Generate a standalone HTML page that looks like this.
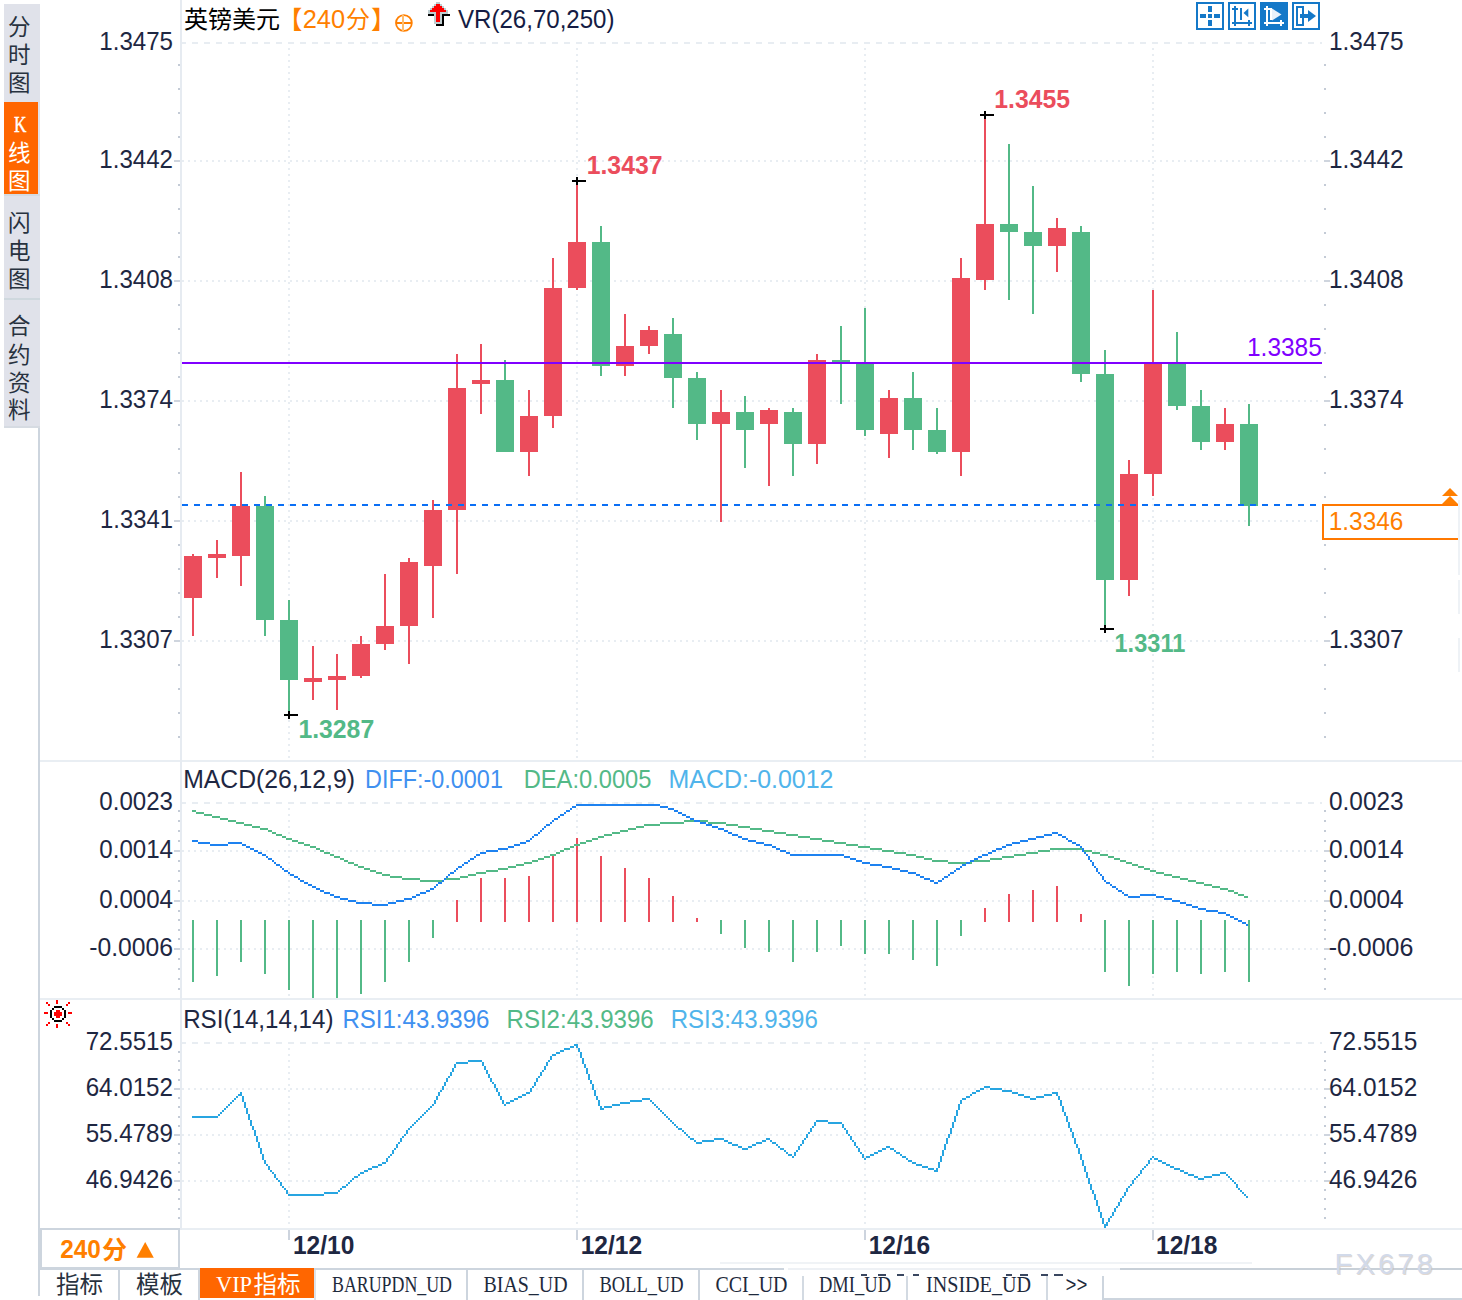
<!DOCTYPE html>
<html><head><meta charset="utf-8"><title>GBPUSD 240</title>
<style>html,body{margin:0;padding:0;background:#fff;}body{width:1462px;height:1300px;overflow:hidden;font-family:"Liberation Sans",sans-serif;}svg{display:block}</style></head>
<body><svg width="1462" height="1300" viewBox="0 0 1462 1300" font-family="Liberation Sans, sans-serif"><rect width="1462" height="1300" fill="#fff"/>
<g shape-rendering="crispEdges">
<path d="M180 43H1322" stroke="#e8edf2" stroke-width="2" stroke-dasharray="6 6" fill="none"/>
<path d="M182 161H1322" stroke="#e8edf2" stroke-width="2" stroke-dasharray="2 4" fill="none"/>
<path d="M182 281H1322" stroke="#e8edf2" stroke-width="2" stroke-dasharray="2 4" fill="none"/>
<path d="M182 401H1322" stroke="#e8edf2" stroke-width="2" stroke-dasharray="2 4" fill="none"/>
<path d="M182 521H1322" stroke="#e8edf2" stroke-width="2" stroke-dasharray="2 4" fill="none"/>
<path d="M182 641H1322" stroke="#e8edf2" stroke-width="2" stroke-dasharray="2 4" fill="none"/>
<path d="M180 803H1322" stroke="#e8edf2" stroke-width="2" stroke-dasharray="6 6" fill="none"/>
<path d="M182 851H1322" stroke="#e8edf2" stroke-width="2" stroke-dasharray="2 4" fill="none"/>
<path d="M182 901H1322" stroke="#e8edf2" stroke-width="2" stroke-dasharray="2 4" fill="none"/>
<path d="M182 949H1322" stroke="#e8edf2" stroke-width="2" stroke-dasharray="2 4" fill="none"/>
<path d="M180 1043H1322" stroke="#e8edf2" stroke-width="2" stroke-dasharray="6 6" fill="none"/>
<path d="M182 1089H1322" stroke="#e8edf2" stroke-width="2" stroke-dasharray="2 4" fill="none"/>
<path d="M182 1135H1322" stroke="#e8edf2" stroke-width="2" stroke-dasharray="2 4" fill="none"/>
<path d="M182 1181H1322" stroke="#e8edf2" stroke-width="2" stroke-dasharray="2 4" fill="none"/>
<path d="M289 48V760" stroke="#e8edf2" stroke-width="2" stroke-dasharray="2 4" fill="none"/>
<path d="M289 808V998" stroke="#e8edf2" stroke-width="2" stroke-dasharray="2 4" fill="none"/>
<path d="M289 1048V1228" stroke="#e8edf2" stroke-width="2" stroke-dasharray="2 4" fill="none"/>
<path d="M577 48V760" stroke="#e8edf2" stroke-width="2" stroke-dasharray="2 4" fill="none"/>
<path d="M577 808V998" stroke="#e8edf2" stroke-width="2" stroke-dasharray="2 4" fill="none"/>
<path d="M577 1048V1228" stroke="#e8edf2" stroke-width="2" stroke-dasharray="2 4" fill="none"/>
<path d="M865 48V760" stroke="#e8edf2" stroke-width="2" stroke-dasharray="2 4" fill="none"/>
<path d="M865 808V998" stroke="#e8edf2" stroke-width="2" stroke-dasharray="2 4" fill="none"/>
<path d="M865 1048V1228" stroke="#e8edf2" stroke-width="2" stroke-dasharray="2 4" fill="none"/>
<path d="M1153 48V760" stroke="#e8edf2" stroke-width="2" stroke-dasharray="2 4" fill="none"/>
<path d="M1153 808V998" stroke="#e8edf2" stroke-width="2" stroke-dasharray="2 4" fill="none"/>
<path d="M1153 1048V1228" stroke="#e8edf2" stroke-width="2" stroke-dasharray="2 4" fill="none"/>
<rect x="40" y="760" width="1422" height="2" fill="#e9eef3"/>
<rect x="40" y="998" width="1422" height="2" fill="#e9eef3"/>
<rect x="40" y="1228" width="1422" height="2" fill="#e9eef3"/>
<rect x="180" y="0" width="2" height="1230" fill="#e6ebf1"/>
<rect x="38" y="427" width="2" height="869" fill="#cdd5de"/>
<rect x="178" y="64" width="2" height="2" fill="#c4cbd6"/>
<rect x="1324" y="64" width="2" height="2" fill="#c4cbd6"/>
<rect x="178" y="88" width="2" height="2" fill="#c4cbd6"/>
<rect x="1324" y="88" width="2" height="2" fill="#c4cbd6"/>
<rect x="178" y="112" width="2" height="2" fill="#c4cbd6"/>
<rect x="1324" y="112" width="2" height="2" fill="#c4cbd6"/>
<rect x="178" y="136" width="2" height="2" fill="#c4cbd6"/>
<rect x="1324" y="136" width="2" height="2" fill="#c4cbd6"/>
<rect x="174" y="160" width="6" height="2" fill="#cfd5de"/>
<rect x="1324" y="160" width="6" height="2" fill="#cfd5de"/>
<rect x="178" y="184" width="2" height="2" fill="#c4cbd6"/>
<rect x="1324" y="184" width="2" height="2" fill="#c4cbd6"/>
<rect x="178" y="208" width="2" height="2" fill="#c4cbd6"/>
<rect x="1324" y="208" width="2" height="2" fill="#c4cbd6"/>
<rect x="178" y="232" width="2" height="2" fill="#c4cbd6"/>
<rect x="1324" y="232" width="2" height="2" fill="#c4cbd6"/>
<rect x="178" y="256" width="2" height="2" fill="#c4cbd6"/>
<rect x="1324" y="256" width="2" height="2" fill="#c4cbd6"/>
<rect x="174" y="280" width="6" height="2" fill="#cfd5de"/>
<rect x="1324" y="280" width="6" height="2" fill="#cfd5de"/>
<rect x="178" y="304" width="2" height="2" fill="#c4cbd6"/>
<rect x="1324" y="304" width="2" height="2" fill="#c4cbd6"/>
<rect x="178" y="328" width="2" height="2" fill="#c4cbd6"/>
<rect x="1324" y="328" width="2" height="2" fill="#c4cbd6"/>
<rect x="178" y="352" width="2" height="2" fill="#c4cbd6"/>
<rect x="1324" y="352" width="2" height="2" fill="#c4cbd6"/>
<rect x="178" y="376" width="2" height="2" fill="#c4cbd6"/>
<rect x="1324" y="376" width="2" height="2" fill="#c4cbd6"/>
<rect x="174" y="400" width="6" height="2" fill="#cfd5de"/>
<rect x="1324" y="400" width="6" height="2" fill="#cfd5de"/>
<rect x="178" y="424" width="2" height="2" fill="#c4cbd6"/>
<rect x="1324" y="424" width="2" height="2" fill="#c4cbd6"/>
<rect x="178" y="448" width="2" height="2" fill="#c4cbd6"/>
<rect x="1324" y="448" width="2" height="2" fill="#c4cbd6"/>
<rect x="178" y="472" width="2" height="2" fill="#c4cbd6"/>
<rect x="1324" y="472" width="2" height="2" fill="#c4cbd6"/>
<rect x="178" y="496" width="2" height="2" fill="#c4cbd6"/>
<rect x="1324" y="496" width="2" height="2" fill="#c4cbd6"/>
<rect x="174" y="520" width="6" height="2" fill="#cfd5de"/>
<rect x="1324" y="520" width="6" height="2" fill="#cfd5de"/>
<rect x="178" y="544" width="2" height="2" fill="#c4cbd6"/>
<rect x="1324" y="544" width="2" height="2" fill="#c4cbd6"/>
<rect x="178" y="568" width="2" height="2" fill="#c4cbd6"/>
<rect x="1324" y="568" width="2" height="2" fill="#c4cbd6"/>
<rect x="178" y="592" width="2" height="2" fill="#c4cbd6"/>
<rect x="1324" y="592" width="2" height="2" fill="#c4cbd6"/>
<rect x="178" y="616" width="2" height="2" fill="#c4cbd6"/>
<rect x="1324" y="616" width="2" height="2" fill="#c4cbd6"/>
<rect x="174" y="640" width="6" height="2" fill="#cfd5de"/>
<rect x="1324" y="640" width="6" height="2" fill="#cfd5de"/>
<rect x="178" y="664" width="2" height="2" fill="#c4cbd6"/>
<rect x="1324" y="664" width="2" height="2" fill="#c4cbd6"/>
<rect x="178" y="688" width="2" height="2" fill="#c4cbd6"/>
<rect x="1324" y="688" width="2" height="2" fill="#c4cbd6"/>
<rect x="178" y="712" width="2" height="2" fill="#c4cbd6"/>
<rect x="1324" y="712" width="2" height="2" fill="#c4cbd6"/>
<rect x="178" y="736" width="2" height="2" fill="#c4cbd6"/>
<rect x="1324" y="736" width="2" height="2" fill="#c4cbd6"/>
<rect x="178" y="810" width="2" height="2" fill="#c4cbd6"/>
<rect x="1324" y="810" width="2" height="2" fill="#c4cbd6"/>
<rect x="178" y="820" width="2" height="2" fill="#c4cbd6"/>
<rect x="1324" y="820" width="2" height="2" fill="#c4cbd6"/>
<rect x="178" y="830" width="2" height="2" fill="#c4cbd6"/>
<rect x="1324" y="830" width="2" height="2" fill="#c4cbd6"/>
<rect x="178" y="840" width="2" height="2" fill="#c4cbd6"/>
<rect x="1324" y="840" width="2" height="2" fill="#c4cbd6"/>
<rect x="174" y="850" width="6" height="2" fill="#cfd5de"/>
<rect x="1324" y="850" width="6" height="2" fill="#cfd5de"/>
<rect x="178" y="860" width="2" height="2" fill="#c4cbd6"/>
<rect x="1324" y="860" width="2" height="2" fill="#c4cbd6"/>
<rect x="178" y="870" width="2" height="2" fill="#c4cbd6"/>
<rect x="1324" y="870" width="2" height="2" fill="#c4cbd6"/>
<rect x="178" y="880" width="2" height="2" fill="#c4cbd6"/>
<rect x="1324" y="880" width="2" height="2" fill="#c4cbd6"/>
<rect x="178" y="890" width="2" height="2" fill="#c4cbd6"/>
<rect x="1324" y="890" width="2" height="2" fill="#c4cbd6"/>
<rect x="174" y="900" width="6" height="2" fill="#cfd5de"/>
<rect x="1324" y="900" width="6" height="2" fill="#cfd5de"/>
<rect x="178" y="910" width="2" height="2" fill="#c4cbd6"/>
<rect x="1324" y="910" width="2" height="2" fill="#c4cbd6"/>
<rect x="178" y="919" width="2" height="2" fill="#c4cbd6"/>
<rect x="1324" y="919" width="2" height="2" fill="#c4cbd6"/>
<rect x="178" y="929" width="2" height="2" fill="#c4cbd6"/>
<rect x="1324" y="929" width="2" height="2" fill="#c4cbd6"/>
<rect x="178" y="938" width="2" height="2" fill="#c4cbd6"/>
<rect x="1324" y="938" width="2" height="2" fill="#c4cbd6"/>
<rect x="174" y="948" width="6" height="2" fill="#cfd5de"/>
<rect x="1324" y="948" width="6" height="2" fill="#cfd5de"/>
<rect x="178" y="958" width="2" height="2" fill="#c4cbd6"/>
<rect x="1324" y="958" width="2" height="2" fill="#c4cbd6"/>
<rect x="178" y="968" width="2" height="2" fill="#c4cbd6"/>
<rect x="1324" y="968" width="2" height="2" fill="#c4cbd6"/>
<rect x="178" y="978" width="2" height="2" fill="#c4cbd6"/>
<rect x="1324" y="978" width="2" height="2" fill="#c4cbd6"/>
<rect x="178" y="988" width="2" height="2" fill="#c4cbd6"/>
<rect x="1324" y="988" width="2" height="2" fill="#c4cbd6"/>
<rect x="178" y="1051" width="2" height="2" fill="#c4cbd6"/>
<rect x="1324" y="1051" width="2" height="2" fill="#c4cbd6"/>
<rect x="178" y="1060" width="2" height="2" fill="#c4cbd6"/>
<rect x="1324" y="1060" width="2" height="2" fill="#c4cbd6"/>
<rect x="178" y="1069" width="2" height="2" fill="#c4cbd6"/>
<rect x="1324" y="1069" width="2" height="2" fill="#c4cbd6"/>
<rect x="178" y="1079" width="2" height="2" fill="#c4cbd6"/>
<rect x="1324" y="1079" width="2" height="2" fill="#c4cbd6"/>
<rect x="174" y="1088" width="6" height="2" fill="#cfd5de"/>
<rect x="1324" y="1088" width="6" height="2" fill="#cfd5de"/>
<rect x="178" y="1097" width="2" height="2" fill="#c4cbd6"/>
<rect x="1324" y="1097" width="2" height="2" fill="#c4cbd6"/>
<rect x="178" y="1106" width="2" height="2" fill="#c4cbd6"/>
<rect x="1324" y="1106" width="2" height="2" fill="#c4cbd6"/>
<rect x="178" y="1116" width="2" height="2" fill="#c4cbd6"/>
<rect x="1324" y="1116" width="2" height="2" fill="#c4cbd6"/>
<rect x="178" y="1125" width="2" height="2" fill="#c4cbd6"/>
<rect x="1324" y="1125" width="2" height="2" fill="#c4cbd6"/>
<rect x="174" y="1134" width="6" height="2" fill="#cfd5de"/>
<rect x="1324" y="1134" width="6" height="2" fill="#cfd5de"/>
<rect x="178" y="1143" width="2" height="2" fill="#c4cbd6"/>
<rect x="1324" y="1143" width="2" height="2" fill="#c4cbd6"/>
<rect x="178" y="1152" width="2" height="2" fill="#c4cbd6"/>
<rect x="1324" y="1152" width="2" height="2" fill="#c4cbd6"/>
<rect x="178" y="1162" width="2" height="2" fill="#c4cbd6"/>
<rect x="1324" y="1162" width="2" height="2" fill="#c4cbd6"/>
<rect x="178" y="1171" width="2" height="2" fill="#c4cbd6"/>
<rect x="1324" y="1171" width="2" height="2" fill="#c4cbd6"/>
<rect x="174" y="1180" width="6" height="2" fill="#cfd5de"/>
<rect x="1324" y="1180" width="6" height="2" fill="#cfd5de"/>
<rect x="178" y="1189" width="2" height="2" fill="#c4cbd6"/>
<rect x="1324" y="1189" width="2" height="2" fill="#c4cbd6"/>
<rect x="178" y="1198" width="2" height="2" fill="#c4cbd6"/>
<rect x="1324" y="1198" width="2" height="2" fill="#c4cbd6"/>
<rect x="178" y="1208" width="2" height="2" fill="#c4cbd6"/>
<rect x="1324" y="1208" width="2" height="2" fill="#c4cbd6"/>
<rect x="178" y="1217" width="2" height="2" fill="#c4cbd6"/>
<rect x="1324" y="1217" width="2" height="2" fill="#c4cbd6"/>
</g>
<g shape-rendering="crispEdges">
<path d="M192 554h2V636h-2zM184 556h18V598h-18z" fill="#eb4d5c"/>
<path d="M216 540h2V578h-2zM208 554h18V558h-18z" fill="#eb4d5c"/>
<path d="M240 472h2V586h-2zM232 506h18V556h-18z" fill="#eb4d5c"/>
<path d="M264 496h2V636h-2zM256 506h18V620h-18z" fill="#53b987"/>
<path d="M288 600h2V714h-2zM280 620h18V680h-18z" fill="#53b987"/>
<path d="M312 646h2V700h-2zM304 678h18V682h-18z" fill="#eb4d5c"/>
<path d="M336 654h2V710h-2zM328 676h18V680h-18z" fill="#eb4d5c"/>
<path d="M360 636h2V678h-2zM352 644h18V676h-18z" fill="#eb4d5c"/>
<path d="M384 574h2V650h-2zM376 626h18V644h-18z" fill="#eb4d5c"/>
<path d="M408 558h2V664h-2zM400 562h18V626h-18z" fill="#eb4d5c"/>
<path d="M432 500h2V618h-2zM424 510h18V566h-18z" fill="#eb4d5c"/>
<path d="M456 354h2V574h-2zM448 388h18V510h-18z" fill="#eb4d5c"/>
<path d="M480 344h2V414h-2zM472 380h18V384h-18z" fill="#eb4d5c"/>
<path d="M504 360h2V452h-2zM496 380h18V452h-18z" fill="#53b987"/>
<path d="M528 390h2V476h-2zM520 416h18V452h-18z" fill="#eb4d5c"/>
<path d="M552 258h2V428h-2zM544 288h18V416h-18z" fill="#eb4d5c"/>
<path d="M576 182h2V290h-2zM568 242h18V288h-18z" fill="#eb4d5c"/>
<path d="M600 226h2V376h-2zM592 242h18V366h-18z" fill="#53b987"/>
<path d="M624 314h2V376h-2zM616 346h18V366h-18z" fill="#eb4d5c"/>
<path d="M648 326h2V354h-2zM640 330h18V346h-18z" fill="#eb4d5c"/>
<path d="M672 318h2V408h-2zM664 334h18V378h-18z" fill="#53b987"/>
<path d="M696 372h2V440h-2zM688 378h18V424h-18z" fill="#53b987"/>
<path d="M720 390h2V522h-2zM712 412h18V424h-18z" fill="#eb4d5c"/>
<path d="M744 396h2V468h-2zM736 412h18V430h-18z" fill="#53b987"/>
<path d="M768 408h2V486h-2zM760 410h18V424h-18z" fill="#eb4d5c"/>
<path d="M792 408h2V476h-2zM784 412h18V444h-18z" fill="#53b987"/>
<path d="M816 354h2V464h-2zM808 360h18V444h-18z" fill="#eb4d5c"/>
<path d="M840 326h2V404h-2zM832 360h18V364h-18z" fill="#53b987"/>
<path d="M864 308h2V436h-2zM856 362h18V430h-18z" fill="#53b987"/>
<path d="M888 390h2V458h-2zM880 398h18V434h-18z" fill="#eb4d5c"/>
<path d="M912 372h2V450h-2zM904 398h18V430h-18z" fill="#53b987"/>
<path d="M936 408h2V454h-2zM928 430h18V452h-18z" fill="#53b987"/>
<path d="M960 258h2V476h-2zM952 278h18V452h-18z" fill="#eb4d5c"/>
<path d="M984 116h2V290h-2zM976 224h18V280h-18z" fill="#eb4d5c"/>
<path d="M1008 144h2V300h-2zM1000 224h18V232h-18z" fill="#53b987"/>
<path d="M1032 186h2V314h-2zM1024 232h18V246h-18z" fill="#53b987"/>
<path d="M1056 218h2V272h-2zM1048 228h18V246h-18z" fill="#eb4d5c"/>
<path d="M1080 226h2V382h-2zM1072 232h18V374h-18z" fill="#53b987"/>
<path d="M1104 350h2V628h-2zM1096 374h18V580h-18z" fill="#53b987"/>
<path d="M1128 460h2V596h-2zM1120 474h18V580h-18z" fill="#eb4d5c"/>
<path d="M1152 290h2V496h-2zM1144 364h18V474h-18z" fill="#eb4d5c"/>
<path d="M1176 332h2V410h-2zM1168 364h18V406h-18z" fill="#53b987"/>
<path d="M1200 390h2V450h-2zM1192 406h18V442h-18z" fill="#53b987"/>
<path d="M1224 408h2V450h-2zM1216 424h18V442h-18z" fill="#eb4d5c"/>
<path d="M1248 404h2V526h-2zM1240 424h18V506h-18z" fill="#53b987"/>
<rect x="182" y="362" width="1140" height="2" fill="#8000ff"/>
<path d="M182 505H1322" stroke="#0a6ff5" stroke-width="2" stroke-dasharray="6 6" fill="none"/>
<path d="M572 180h14v2h-14zM576 177h2v8h-2z" fill="#000"/>
<path d="M980 114h14v2h-14zM984 111h2v8h-2z" fill="#000"/>
<path d="M284 714h14v2h-14zM288 711h2v8h-2z" fill="#000"/>
<path d="M1100 628h14v2h-14zM1104 625h2v8h-2z" fill="#000"/>
</g>
<text x="586.7" y="173.7" font-size="25" fill="#eb4d5c" font-weight="bold" textLength="75.8" lengthAdjust="spacingAndGlyphs">1.3437</text>
<text x="994.3" y="107.6" font-size="25" fill="#eb4d5c" font-weight="bold" textLength="75.8" lengthAdjust="spacingAndGlyphs">1.3455</text>
<text x="298.4" y="738" font-size="25" fill="#53b987" font-weight="bold" textLength="75.8" lengthAdjust="spacingAndGlyphs">1.3287</text>
<text x="1114.5" y="651.7" font-size="25" fill="#53b987" font-weight="bold" textLength="70.8" lengthAdjust="spacingAndGlyphs">1.3311</text>
<text x="1247" y="356" font-size="25" fill="#8000ff" textLength="74.8" lengthAdjust="spacingAndGlyphs">1.3385</text>
<text x="173" y="49.8" font-size="25" fill="#1e2742" text-anchor="end" textLength="73.7" lengthAdjust="spacingAndGlyphs">1.3475</text>
<text x="1329" y="49.8" font-size="25" fill="#1e2742" textLength="74.7" lengthAdjust="spacingAndGlyphs">1.3475</text>
<text x="173" y="167.8" font-size="25" fill="#1e2742" text-anchor="end" textLength="73.7" lengthAdjust="spacingAndGlyphs">1.3442</text>
<text x="1329" y="167.8" font-size="25" fill="#1e2742" textLength="74.7" lengthAdjust="spacingAndGlyphs">1.3442</text>
<text x="173" y="287.8" font-size="25" fill="#1e2742" text-anchor="end" textLength="73.7" lengthAdjust="spacingAndGlyphs">1.3408</text>
<text x="1329" y="287.8" font-size="25" fill="#1e2742" textLength="74.7" lengthAdjust="spacingAndGlyphs">1.3408</text>
<text x="173" y="407.8" font-size="25" fill="#1e2742" text-anchor="end" textLength="73.7" lengthAdjust="spacingAndGlyphs">1.3374</text>
<text x="1329" y="407.8" font-size="25" fill="#1e2742" textLength="74.7" lengthAdjust="spacingAndGlyphs">1.3374</text>
<text x="173" y="647.8" font-size="25" fill="#1e2742" text-anchor="end" textLength="73.7" lengthAdjust="spacingAndGlyphs">1.3307</text>
<text x="1329" y="647.8" font-size="25" fill="#1e2742" textLength="74.7" lengthAdjust="spacingAndGlyphs">1.3307</text>
<text x="173" y="527.8" font-size="25" fill="#1e2742" text-anchor="end" textLength="72.9" lengthAdjust="spacingAndGlyphs">1.3341</text>
<text x="173" y="809.8" font-size="25" fill="#1e2742" text-anchor="end" textLength="73.7" lengthAdjust="spacingAndGlyphs">0.0023</text>
<text x="1329" y="809.8" font-size="25" fill="#1e2742" textLength="74.7" lengthAdjust="spacingAndGlyphs">0.0023</text>
<text x="173" y="857.8" font-size="25" fill="#1e2742" text-anchor="end" textLength="73.7" lengthAdjust="spacingAndGlyphs">0.0014</text>
<text x="1329" y="857.8" font-size="25" fill="#1e2742" textLength="74.7" lengthAdjust="spacingAndGlyphs">0.0014</text>
<text x="173" y="907.8" font-size="25" fill="#1e2742" text-anchor="end" textLength="73.7" lengthAdjust="spacingAndGlyphs">0.0004</text>
<text x="1329" y="907.8" font-size="25" fill="#1e2742" textLength="74.7" lengthAdjust="spacingAndGlyphs">0.0004</text>
<text x="173" y="955.8" font-size="25" fill="#1e2742" text-anchor="end" textLength="83.7" lengthAdjust="spacingAndGlyphs">-0.0006</text>
<text x="1328.7" y="955.8" font-size="25" fill="#1e2742" textLength="84.7" lengthAdjust="spacingAndGlyphs">-0.0006</text>
<text x="173" y="1049.8" font-size="25" fill="#1e2742" text-anchor="end" textLength="87.3" lengthAdjust="spacingAndGlyphs">72.5515</text>
<text x="1329" y="1049.8" font-size="25" fill="#1e2742" textLength="88.3" lengthAdjust="spacingAndGlyphs">72.5515</text>
<text x="173" y="1095.8" font-size="25" fill="#1e2742" text-anchor="end" textLength="87.3" lengthAdjust="spacingAndGlyphs">64.0152</text>
<text x="1329" y="1095.8" font-size="25" fill="#1e2742" textLength="88.3" lengthAdjust="spacingAndGlyphs">64.0152</text>
<text x="173" y="1141.8" font-size="25" fill="#1e2742" text-anchor="end" textLength="87.3" lengthAdjust="spacingAndGlyphs">55.4789</text>
<text x="1329" y="1141.8" font-size="25" fill="#1e2742" textLength="88.3" lengthAdjust="spacingAndGlyphs">55.4789</text>
<text x="173" y="1187.8" font-size="25" fill="#1e2742" text-anchor="end" textLength="87.3" lengthAdjust="spacingAndGlyphs">46.9426</text>
<text x="1329" y="1187.8" font-size="25" fill="#1e2742" textLength="88.3" lengthAdjust="spacingAndGlyphs">46.9426</text>
<g shape-rendering="crispEdges">
<path d="M1458 505H1323V539H1458" stroke="#ff7800" stroke-width="2" fill="#fff"/>
<path d="M1450 488l8 8h-16zM1450 496l8 8h-16z" fill="#ff7f00" shape-rendering="auto"/>
</g>
<text x="1328.7" y="529.8" font-size="25" fill="#ff7f00" textLength="74.7" lengthAdjust="spacingAndGlyphs">1.3346</text>
<g shape-rendering="crispEdges">
<rect x="192" y="920" width="2" height="62" fill="#53b987"/>
<rect x="216" y="920" width="2" height="56" fill="#53b987"/>
<rect x="240" y="920" width="2" height="42" fill="#53b987"/>
<rect x="264" y="920" width="2" height="54" fill="#53b987"/>
<rect x="288" y="920" width="2" height="70" fill="#53b987"/>
<rect x="312" y="920" width="2" height="78" fill="#53b987"/>
<rect x="336" y="920" width="2" height="78" fill="#53b987"/>
<rect x="360" y="920" width="2" height="74" fill="#53b987"/>
<rect x="384" y="920" width="2" height="62" fill="#53b987"/>
<rect x="408" y="920" width="2" height="42" fill="#53b987"/>
<rect x="432" y="920" width="2" height="18" fill="#53b987"/>
<rect x="456" y="900" width="2" height="22" fill="#eb4d5c"/>
<rect x="480" y="878" width="2" height="44" fill="#eb4d5c"/>
<rect x="504" y="878" width="2" height="44" fill="#eb4d5c"/>
<rect x="528" y="876" width="2" height="46" fill="#eb4d5c"/>
<rect x="552" y="856" width="2" height="66" fill="#eb4d5c"/>
<rect x="576" y="838" width="2" height="84" fill="#eb4d5c"/>
<rect x="600" y="856" width="2" height="66" fill="#eb4d5c"/>
<rect x="624" y="868" width="2" height="54" fill="#eb4d5c"/>
<rect x="648" y="878" width="2" height="44" fill="#eb4d5c"/>
<rect x="672" y="896" width="2" height="26" fill="#eb4d5c"/>
<rect x="696" y="918" width="2" height="4" fill="#eb4d5c"/>
<rect x="720" y="920" width="2" height="14" fill="#53b987"/>
<rect x="744" y="920" width="2" height="28" fill="#53b987"/>
<rect x="768" y="920" width="2" height="32" fill="#53b987"/>
<rect x="792" y="920" width="2" height="42" fill="#53b987"/>
<rect x="816" y="920" width="2" height="32" fill="#53b987"/>
<rect x="840" y="920" width="2" height="26" fill="#53b987"/>
<rect x="864" y="920" width="2" height="34" fill="#53b987"/>
<rect x="888" y="920" width="2" height="34" fill="#53b987"/>
<rect x="912" y="920" width="2" height="40" fill="#53b987"/>
<rect x="936" y="920" width="2" height="46" fill="#53b987"/>
<rect x="960" y="920" width="2" height="16" fill="#53b987"/>
<rect x="984" y="908" width="2" height="14" fill="#eb4d5c"/>
<rect x="1008" y="894" width="2" height="28" fill="#eb4d5c"/>
<rect x="1032" y="890" width="2" height="32" fill="#eb4d5c"/>
<rect x="1056" y="886" width="2" height="36" fill="#eb4d5c"/>
<rect x="1080" y="914" width="2" height="8" fill="#eb4d5c"/>
<rect x="1104" y="920" width="2" height="52" fill="#53b987"/>
<rect x="1128" y="920" width="2" height="66" fill="#53b987"/>
<rect x="1152" y="920" width="2" height="54" fill="#53b987"/>
<rect x="1176" y="920" width="2" height="52" fill="#53b987"/>
<rect x="1200" y="920" width="2" height="54" fill="#53b987"/>
<rect x="1224" y="920" width="2" height="52" fill="#53b987"/>
<rect x="1248" y="920" width="2" height="62" fill="#53b987"/>
<path d="M192 810h4v2h-4zM196 812h8v2h-8zM204 814h8v2h-8zM212 816h8v2h-8zM220 818h8v2h-8zM228 820h8v2h-8zM236 822h8v2h-8zM244 824h8v2h-8zM252 826h8v2h-8zM260 828h8v2h-8zM268 830h4v2h-4zM272 832h4v2h-4zM276 834h6v2h-6zM282 836h4v2h-4zM286 838h6v2h-6zM292 840h6v2h-6zM298 842h6v2h-6zM304 844h6v2h-6zM310 846h6v2h-6zM316 848h4v2h-4zM320 850h4v2h-4zM324 852h6v2h-6zM330 854h4v2h-4zM334 856h6v2h-6zM340 858h4v2h-4zM344 860h4v2h-4zM348 862h6v2h-6zM354 864h4v2h-4zM358 866h6v2h-6zM364 868h6v2h-6zM370 870h6v2h-6zM376 872h6v2h-6zM382 874h8v2h-8zM390 876h12v2h-12zM402 878h18v2h-18zM420 880h24v2h-24zM444 878h16v2h-16zM460 876h8v2h-8zM468 874h8v2h-8zM476 872h10v2h-10zM486 870h12v2h-12zM498 868h10v2h-10zM508 866h8v2h-8zM516 864h8v2h-8zM524 862h8v2h-8zM532 860h6v2h-6zM538 858h6v2h-6zM544 856h6v2h-6zM550 854h6v2h-6zM556 852h4v2h-4zM560 850h4v2h-4zM564 848h6v2h-6zM570 846h4v2h-4zM574 844h6v2h-6zM580 842h6v2h-6zM586 840h6v2h-6zM592 838h6v2h-6zM598 836h6v2h-6zM604 834h8v2h-8zM612 832h8v2h-8zM620 830h8v2h-8zM628 828h8v2h-8zM636 826h8v2h-8zM644 824h16v2h-16zM660 822h24v2h-24zM684 820h24v2h-24zM708 822h18v2h-18zM726 824h12v2h-12zM738 826h12v2h-12zM750 828h12v2h-12zM762 830h12v2h-12zM774 832h12v2h-12zM786 834h12v2h-12zM798 836h12v2h-12zM810 838h12v2h-12zM822 840h12v2h-12zM834 842h12v2h-12zM846 844h12v2h-12zM858 846h12v2h-12zM870 848h12v2h-12zM882 850h12v2h-12zM894 852h12v2h-12zM906 854h10v2h-10zM916 856h8v2h-8zM924 858h8v2h-8zM932 860h16v2h-16zM948 862h24v2h-24zM972 860h18v2h-18zM990 858h12v2h-12zM1002 856h12v2h-12zM1014 854h12v2h-12zM1026 852h12v2h-12zM1038 850h12v2h-12zM1050 848h34v2h-34zM1084 850h8v2h-8zM1092 852h8v2h-8zM1100 854h8v2h-8zM1108 856h6v2h-6zM1114 858h6v2h-6zM1120 860h6v2h-6zM1126 862h6v2h-6zM1132 864h6v2h-6zM1138 866h6v2h-6zM1144 868h6v2h-6zM1150 870h6v2h-6zM1156 872h8v2h-8zM1164 874h8v2h-8zM1172 876h8v2h-8zM1180 878h8v2h-8zM1188 880h8v2h-8zM1196 882h8v2h-8zM1204 884h8v2h-8zM1212 886h8v2h-8zM1220 888h8v2h-8zM1228 890h6v2h-6zM1234 892h4v2h-4zM1238 894h6v2h-6zM1244 896h4v2h-4z" fill="#53b987"/>
<path d="M192 840h6v2h-6zM198 842h12v2h-12zM210 844h18v2h-18zM228 842h14v2h-14zM242 844h4v2h-4zM246 846h4v2h-4zM250 848h4v2h-4zM254 850h4v2h-4zM258 852h4v2h-4zM262 854h4v2h-4zM266 856h2v2h-2zM268 858h4v2h-4zM272 860h2v2h-2zM274 862h2v2h-2zM276 864h4v2h-4zM280 866h2v2h-2zM282 868h2v2h-2zM284 870h4v2h-4zM288 872h2v2h-2zM290 874h4v2h-4zM294 876h4v2h-4zM298 878h2v2h-2zM300 880h4v2h-4zM304 882h4v2h-4zM308 884h4v2h-4zM312 886h4v2h-4zM316 888h4v2h-4zM320 890h4v2h-4zM324 892h6v2h-6zM330 894h4v2h-4zM334 896h6v2h-6zM340 898h8v2h-8zM348 900h8v2h-8zM356 902h16v2h-16zM372 904h16v2h-16zM388 902h8v2h-8zM396 900h8v2h-8zM404 898h8v2h-8zM412 896h4v2h-4zM416 894h4v2h-4zM420 892h6v2h-6zM426 890h4v2h-4zM430 888h4v2h-4zM434 886h2v2h-2zM436 884h2v2h-2zM438 882h4v2h-4zM442 880h2v2h-2zM444 878h2v2h-2zM446 876h2v2h-2zM448 874h2v2h-2zM450 872h4v2h-4zM454 870h2v2h-2zM456 868h2v2h-2zM458 866h4v2h-4zM462 864h2v2h-2zM464 862h4v2h-4zM468 860h2v2h-2zM470 858h4v2h-4zM474 856h2v2h-2zM476 854h4v2h-4zM480 852h6v2h-6zM486 850h12v2h-12zM498 848h10v2h-10zM508 846h6v2h-6zM514 844h6v2h-6zM520 842h6v2h-6zM526 840h4v2h-4zM530 838h2v2h-2zM532 836h2v2h-2zM534 834h4v2h-4zM538 832h2v2h-2zM540 830h2v2h-2zM542 828h2v2h-2zM544 826h2v2h-2zM546 824h4v2h-4zM550 822h2v2h-2zM552 820h2v2h-2zM554 818h4v2h-4zM558 816h2v2h-2zM560 814h4v2h-4zM564 812h2v2h-2zM566 810h4v2h-4zM570 808h2v2h-2zM572 806h4v2h-4zM576 804h84v2h-84zM660 806h8v2h-8zM668 808h6v2h-6zM674 810h4v2h-4zM678 812h4v2h-4zM682 814h4v2h-4zM686 816h4v2h-4zM690 818h4v2h-4zM694 820h6v2h-6zM700 822h6v2h-6zM706 824h6v2h-6zM712 826h6v2h-6zM718 828h6v2h-6zM724 830h4v2h-4zM728 832h4v2h-4zM732 834h6v2h-6zM738 836h4v2h-4zM742 838h6v2h-6zM748 840h8v2h-8zM756 842h8v2h-8zM764 844h8v2h-8zM772 846h4v2h-4zM776 848h4v2h-4zM780 850h6v2h-6zM786 852h4v2h-4zM790 854h54v2h-54zM844 856h6v2h-6zM850 858h6v2h-6zM856 860h6v2h-6zM862 862h8v2h-8zM870 864h12v2h-12zM882 866h10v2h-10zM892 868h8v2h-8zM900 870h8v2h-8zM908 872h8v2h-8zM916 874h4v2h-4zM920 876h4v2h-4zM924 878h6v2h-6zM930 880h4v2h-4zM934 882h4v2h-4zM938 880h4v2h-4zM942 878h2v2h-2zM944 876h4v2h-4zM948 874h2v2h-2zM950 872h4v2h-4zM954 870h2v2h-2zM956 868h4v2h-4zM960 866h2v2h-2zM962 864h4v2h-4zM966 862h4v2h-4zM970 860h4v2h-4zM974 858h4v2h-4zM978 856h4v2h-4zM982 854h6v2h-6zM988 852h4v2h-4zM992 850h4v2h-4zM996 848h6v2h-6zM1002 846h4v2h-4zM1006 844h6v2h-6zM1012 842h8v2h-8zM1020 840h8v2h-8zM1028 838h8v2h-8zM1036 836h8v2h-8zM1044 834h8v2h-8zM1052 832h6v2h-6zM1058 834h4v2h-4zM1062 836h4v2h-4zM1066 838h2v2h-2zM1068 840h4v2h-4zM1072 842h4v2h-4zM1076 844h4v2h-4zM1080 846h2v2h-2zM1082 848h2v4h-2zM1084 852h2v2h-2zM1086 854h2v2h-2zM1088 856h2v4h-2zM1090 860h2v2h-2zM1092 862h2v4h-2zM1094 866h2v2h-2zM1096 868h2v4h-2zM1098 872h2v2h-2zM1100 874h2v2h-2zM1102 876h2v4h-2zM1104 880h2v2h-2zM1106 882h4v2h-4zM1110 884h2v2h-2zM1112 886h4v2h-4zM1116 888h2v2h-2zM1118 890h4v2h-4zM1122 892h2v2h-2zM1124 894h4v2h-4zM1128 896h12v2h-12zM1140 894h16v2h-16zM1156 896h8v2h-8zM1164 898h8v2h-8zM1172 900h8v2h-8zM1180 902h6v2h-6zM1186 904h6v2h-6zM1192 906h6v2h-6zM1198 908h8v2h-8zM1206 910h12v2h-12zM1218 912h8v2h-8zM1226 914h4v2h-4zM1230 916h4v2h-4zM1234 918h4v2h-4zM1238 920h4v2h-4zM1242 922h4v2h-4zM1246 924h2v2h-2z" fill="#1e82f0"/>
<path d="M192 1116h26v2h-26zM218 1114h2v2h-2zM220 1112h2v2h-2zM222 1110h2v2h-2zM224 1108h2v2h-2zM226 1106h2v2h-2zM228 1104h2v2h-2zM230 1102h2v2h-2zM232 1100h2v2h-2zM234 1098h2v2h-2zM236 1096h2v2h-2zM238 1094h2v2h-2zM240 1092h2v4h-2zM242 1096h2v6h-2zM244 1102h2v6h-2zM246 1108h2v6h-2zM248 1114h2v6h-2zM250 1120h2v6h-2zM252 1126h2v4h-2zM254 1130h2v6h-2zM256 1136h2v6h-2zM258 1142h2v6h-2zM260 1148h2v6h-2zM262 1154h2v6h-2zM264 1160h2v4h-2zM266 1164h2v2h-2zM268 1166h2v4h-2zM270 1170h2v2h-2zM272 1172h2v2h-2zM274 1174h2v4h-2zM276 1178h2v2h-2zM278 1180h2v2h-2zM280 1182h2v4h-2zM282 1186h2v2h-2zM284 1188h2v2h-2zM286 1190h2v4h-2zM288 1194h36v2h-36zM324 1192h14v2h-14zM338 1190h2v2h-2zM340 1188h2v2h-2zM342 1186h4v2h-4zM346 1184h2v2h-2zM348 1182h2v2h-2zM350 1180h2v2h-2zM352 1178h2v2h-2zM354 1176h4v2h-4zM358 1174h2v2h-2zM360 1172h4v2h-4zM364 1170h4v2h-4zM368 1168h4v2h-4zM372 1166h6v2h-6zM378 1164h4v2h-4zM382 1162h4v2h-4zM386 1158h2v4h-2zM388 1156h2v2h-2zM390 1154h2v2h-2zM392 1150h2v4h-2zM394 1148h2v2h-2zM396 1144h2v4h-2zM398 1142h2v2h-2zM400 1138h2v4h-2zM402 1136h2v2h-2zM404 1134h2v2h-2zM406 1130h2v4h-2zM408 1128h2v2h-2zM410 1126h2v2h-2zM412 1124h2v2h-2zM414 1122h2v2h-2zM416 1120h2v2h-2zM418 1118h2v2h-2zM420 1116h2v2h-2zM422 1114h2v2h-2zM424 1112h2v2h-2zM426 1110h2v2h-2zM428 1108h2v2h-2zM430 1106h2v2h-2zM432 1104h2v2h-2zM434 1100h2v4h-2zM436 1096h2v4h-2zM438 1092h2v4h-2zM440 1090h2v2h-2zM442 1086h2v4h-2zM444 1082h2v4h-2zM446 1078h2v4h-2zM448 1076h2v2h-2zM450 1072h2v4h-2zM452 1068h2v4h-2zM454 1064h2v4h-2zM456 1062h12v2h-12zM468 1060h14v2h-14zM482 1062h2v4h-2zM484 1066h2v4h-2zM486 1070h2v4h-2zM488 1074h2v4h-2zM490 1078h2v4h-2zM492 1082h2v2h-2zM494 1084h2v4h-2zM496 1088h2v4h-2zM498 1092h2v4h-2zM500 1096h2v4h-2zM502 1100h2v4h-2zM504 1104h2v2h-2zM506 1102h4v2h-4zM510 1100h4v2h-4zM514 1098h4v2h-4zM518 1096h4v2h-4zM522 1094h4v2h-4zM526 1092h4v2h-4zM530 1088h2v4h-2zM532 1086h2v2h-2zM534 1082h2v4h-2zM536 1078h2v4h-2zM538 1076h2v2h-2zM540 1072h2v4h-2zM542 1070h2v2h-2zM544 1066h2v4h-2zM546 1062h2v4h-2zM548 1060h2v2h-2zM550 1056h2v4h-2zM552 1054h4v2h-4zM556 1052h4v2h-4zM560 1050h4v2h-4zM564 1048h6v2h-6zM570 1046h4v2h-4zM574 1044h2v2h-2zM576 1044h2v4h-2zM578 1048h2v4h-2zM580 1052h2v6h-2zM582 1058h2v6h-2zM584 1064h2v4h-2zM586 1068h2v6h-2zM588 1074h2v6h-2zM590 1080h2v4h-2zM592 1084h2v6h-2zM594 1090h2v6h-2zM596 1096h2v4h-2zM598 1100h2v6h-2zM600 1106h2v4h-2zM602 1108h2v2h-2zM604 1106h8v2h-8zM612 1104h8v2h-8zM620 1102h10v2h-10zM630 1100h12v2h-12zM642 1098h8v2h-8zM650 1100h2v2h-2zM652 1102h2v2h-2zM654 1104h2v2h-2zM656 1106h2v2h-2zM658 1108h2v2h-2zM660 1110h2v2h-2zM662 1112h2v2h-2zM664 1114h2v2h-2zM666 1116h2v2h-2zM668 1118h2v2h-2zM670 1120h2v2h-2zM672 1122h2v2h-2zM674 1124h2v2h-2zM676 1126h2v2h-2zM678 1128h4v2h-4zM682 1130h2v2h-2zM684 1132h2v2h-2zM686 1134h2v2h-2zM688 1136h2v2h-2zM690 1138h4v2h-4zM694 1140h2v2h-2zM696 1142h6v2h-6zM702 1140h12v2h-12zM714 1138h10v2h-10zM724 1140h4v2h-4zM728 1142h4v2h-4zM732 1144h6v2h-6zM738 1146h4v2h-4zM742 1148h6v2h-6zM748 1146h4v2h-4zM752 1144h4v2h-4zM756 1142h6v2h-6zM762 1140h4v2h-4zM766 1138h4v2h-4zM770 1140h2v2h-2zM772 1142h4v2h-4zM776 1144h2v2h-2zM778 1146h2v2h-2zM780 1148h4v2h-4zM784 1150h2v2h-2zM786 1152h2v2h-2zM788 1154h4v2h-4zM792 1156h2v2h-2zM794 1152h2v4h-2zM796 1150h2v2h-2zM798 1146h2v4h-2zM800 1144h2v2h-2zM802 1140h2v4h-2zM804 1138h2v2h-2zM806 1134h2v4h-2zM808 1132h2v2h-2zM810 1128h2v4h-2zM812 1126h2v2h-2zM814 1122h2v4h-2zM816 1120h12v2h-12zM828 1122h14v2h-14zM842 1124h2v4h-2zM844 1128h2v2h-2zM846 1130h2v4h-2zM848 1134h2v2h-2zM850 1136h2v4h-2zM852 1140h2v2h-2zM854 1142h2v4h-2zM856 1146h2v2h-2zM858 1148h2v4h-2zM860 1152h2v2h-2zM862 1154h2v4h-2zM864 1158h2v2h-2zM866 1156h4v2h-4zM870 1154h4v2h-4zM874 1152h4v2h-4zM878 1150h4v2h-4zM882 1148h4v2h-4zM886 1146h4v2h-4zM890 1148h4v2h-4zM894 1150h2v2h-2zM896 1152h4v2h-4zM900 1154h2v2h-2zM902 1156h4v2h-4zM906 1158h2v2h-2zM908 1160h4v2h-4zM912 1162h4v2h-4zM916 1164h6v2h-6zM922 1166h6v2h-6zM928 1168h6v2h-6zM934 1170h2v2h-2zM936 1168h2v4h-2zM938 1162h2v6h-2zM940 1156h2v6h-2zM942 1150h2v6h-2zM944 1144h2v6h-2zM946 1138h2v6h-2zM948 1134h2v4h-2zM950 1128h2v6h-2zM952 1122h2v6h-2zM954 1116h2v6h-2zM956 1110h2v6h-2zM958 1104h2v6h-2zM960 1100h2v4h-2zM962 1098h4v2h-4zM966 1096h4v2h-4zM970 1094h2v2h-2zM972 1092h4v2h-4zM976 1090h4v2h-4zM980 1088h4v2h-4zM984 1086h6v2h-6zM990 1088h12v2h-12zM1002 1090h10v2h-10zM1012 1092h6v2h-6zM1018 1094h6v2h-6zM1024 1096h6v2h-6zM1030 1098h6v2h-6zM1036 1096h8v2h-8zM1044 1094h8v2h-8zM1052 1092h4v2h-4zM1056 1092h2v4h-2zM1058 1096h2v4h-2zM1060 1100h2v6h-2zM1062 1106h2v6h-2zM1064 1112h2v4h-2zM1066 1116h2v6h-2zM1068 1122h2v6h-2zM1070 1128h2v4h-2zM1072 1132h2v6h-2zM1074 1138h2v6h-2zM1076 1144h2v4h-2zM1078 1148h2v6h-2zM1080 1154h2v6h-2zM1082 1160h2v6h-2zM1084 1166h2v6h-2zM1086 1172h2v6h-2zM1088 1178h2v6h-2zM1090 1184h2v6h-2zM1092 1190h2v4h-2zM1094 1194h2v6h-2zM1096 1200h2v6h-2zM1098 1206h2v6h-2zM1100 1212h2v6h-2zM1102 1218h2v6h-2zM1104 1224h2v4h-2zM1106 1222h2v4h-2zM1108 1218h2v4h-2zM1110 1216h2v2h-2zM1112 1212h2v4h-2zM1114 1208h2v4h-2zM1116 1206h2v2h-2zM1118 1202h2v4h-2zM1120 1198h2v4h-2zM1122 1196h2v2h-2zM1124 1192h2v4h-2zM1126 1188h2v4h-2zM1128 1186h2v2h-2zM1130 1184h2v2h-2zM1132 1180h2v4h-2zM1134 1178h2v2h-2zM1136 1176h2v2h-2zM1138 1174h2v2h-2zM1140 1170h2v4h-2zM1142 1168h2v2h-2zM1144 1166h2v2h-2zM1146 1164h2v2h-2zM1148 1160h2v4h-2zM1150 1158h2v2h-2zM1152 1156h2v2h-2zM1154 1158h4v2h-4zM1158 1160h4v2h-4zM1162 1162h4v2h-4zM1166 1164h4v2h-4zM1170 1166h4v2h-4zM1174 1168h6v2h-6zM1180 1170h4v2h-4zM1184 1172h4v2h-4zM1188 1174h6v2h-6zM1194 1176h4v2h-4zM1198 1178h6v2h-6zM1204 1176h8v2h-8zM1212 1174h8v2h-8zM1220 1172h6v2h-6zM1226 1174h2v2h-2zM1228 1176h2v2h-2zM1230 1178h2v2h-2zM1232 1180h2v2h-2zM1234 1182h2v2h-2zM1236 1184h2v4h-2zM1238 1188h2v2h-2zM1240 1190h2v2h-2zM1242 1192h2v2h-2zM1244 1194h2v2h-2zM1246 1196h2v2h-2z" fill="#28a5e1"/>
</g>
<text x="183.2" y="787.6" font-size="25" fill="#1e2742" textLength="171.8" lengthAdjust="spacingAndGlyphs">MACD(26,12,9)</text>
<text x="365.1" y="787.6" font-size="25" fill="#4090f0" textLength="137.8" lengthAdjust="spacingAndGlyphs">DIFF:-0.0001</text>
<text x="523.7" y="787.6" font-size="25" fill="#53b987" textLength="127.8" lengthAdjust="spacingAndGlyphs">DEA:0.0005</text>
<text x="668.5" y="787.6" font-size="25" fill="#50b4eb" textLength="165" lengthAdjust="spacingAndGlyphs">MACD:-0.0012</text>
<text x="183.2" y="1027.6" font-size="25" fill="#1e2742" textLength="150.3" lengthAdjust="spacingAndGlyphs">RSI(14,14,14)</text>
<text x="342.4" y="1027.6" font-size="25" fill="#4090f0" textLength="147.1" lengthAdjust="spacingAndGlyphs">RSI1:43.9396</text>
<text x="506.5" y="1027.6" font-size="25" fill="#53b987" textLength="147.2" lengthAdjust="spacingAndGlyphs">RSI2:43.9396</text>
<text x="670.7" y="1027.6" font-size="25" fill="#50b4eb" textLength="147.1" lengthAdjust="spacingAndGlyphs">RSI3:43.9396</text>
<text x="184" y="28" font-size="24" fill="#000" font-family="Liberation Sans, Noto Sans CJK SC, sans-serif" textLength="96" lengthAdjust="spacingAndGlyphs">英镑美元</text>
<text x="302.5" y="28.5" font-size="25" fill="#ff7f00" text-anchor="end" font-family="Liberation Sans, Noto Sans CJK SC, sans-serif">【</text>
<text x="302.7" y="28.2" font-size="25.5" fill="#ff7f00" textLength="42.4" lengthAdjust="spacingAndGlyphs">240</text>
<text x="346" y="28" font-size="24" fill="#ff7f00" font-family="Liberation Sans, Noto Sans CJK SC, sans-serif">分</text>
<text x="371" y="28.5" font-size="25" fill="#ff7f00" font-family="Liberation Sans, Noto Sans CJK SC, sans-serif">】</text>
<circle cx="403.9" cy="23" r="7.9" fill="none" stroke="#ff7f00" stroke-width="1.8"/><path d="M396 23h16" stroke="#ff7f00" stroke-width="2"/><path d="M403 15v16" stroke="#ffbe6e" stroke-width="2"/>
<g shape-rendering="crispEdges">
<path d="M436 2h4v2h2v2h2v2h2v2h2v4h-6v10h-8v-10h-6v-4h2v-2h2v-2h2v-2h2z" fill="#bfcdd0"/>
<path d="M436 4h4v2h2v2h2v2h2v2h-6v10h-4v-10h-6v-2h2v-2h2v-2h2z" fill="#f00"/>
<path d="M428 14h6v2h-6zM442 14h8v2h-6v10h-8v-2h6z" fill="#000"/>
</g>
<text x="458" y="27.5" font-size="25" fill="#141c44" textLength="156.5" lengthAdjust="spacingAndGlyphs">VR(26,70,250)</text>
<g shape-rendering="crispEdges">
<rect x="1197" y="3" width="26" height="26" fill="#fff" stroke="#1478c8" stroke-width="2"/>
<rect x="1229" y="3" width="26" height="26" fill="#fff" stroke="#1478c8" stroke-width="2"/>
<rect x="1260" y="2" width="28" height="28" fill="#1478c8"/>
<rect x="1293" y="3" width="26" height="26" fill="#fff" stroke="#1478c8" stroke-width="2"/>
<path d="M1208 6h4v6h-4zM1208 20h4v6h-4zM1200 14h6v4h-6zM1214 14h6v4h-6zM1208 14h4v4h-4z" fill="#1478c8"/>
<path d="M1234 6h2v20h-2zM1232 22h20v2h-20zM1232 8h6v2h-6zM1248 20h2v6h-2zM1240 8h2v12h-2z" fill="#1478c8"/>
<path d="M1248.3 8.6v8.6l-4.8-4.3z" fill="#1478c8" shape-rendering="auto"/>
<path d="M1266 6h2v20h-2zM1264 22h20v2h-20zM1264 8h6v2h-6zM1280 20h2v6h-2zM1270 8h2v12h-2z" fill="#fff"/>
<path d="M1272 8.5l9.5 6l-9.5 6z" fill="#e8f1fa" shape-rendering="auto"/>
<rect x="1297" y="7" width="6" height="18" fill="none" stroke="#1478c8" stroke-width="2"/>
<path d="M1300 14h9v4h-9z" fill="#1478c8"/><path d="M1308 10l8 6l-8 6z" fill="#1478c8" shape-rendering="auto"/>
</g>
<g shape-rendering="crispEdges">
<rect x="4" y="4" width="36" height="423.5" fill="#e0e2ea"/>
<rect x="4" y="102" width="34" height="92" fill="#ff6600"/>
<rect x="4" y="194" width="36" height="1.5" fill="#d4dbe2"/>
<rect x="4" y="298" width="36" height="2" fill="#cfd8de"/>
<rect x="4" y="425.5" width="36" height="2" fill="#d6dbe2"/>
</g>
<g font-family="Liberation Sans, Noto Sans CJK SC, sans-serif" font-size="22.5" text-anchor="middle" fill="#28323f">
<text x="19.3" y="34.5">分</text>
<text x="19.3" y="62.5">时</text>
<text x="19.3" y="91">图</text>
</g>
<text x="14" y="131.7" font-size="22.5" fill="#fff" font-family="Liberation Serif" textLength="12.4" lengthAdjust="spacingAndGlyphs" stroke="#fff" stroke-width="0.5">K</text>
<g font-family="Liberation Sans, Noto Sans CJK SC, sans-serif" font-size="22.5" text-anchor="middle" fill="#fff">
<text x="19.3" y="160.5">线</text>
<text x="19.3" y="188.5">图</text>
</g>
<g font-family="Liberation Sans, Noto Sans CJK SC, sans-serif" font-size="22.5" text-anchor="middle" fill="#28323f">
<text x="19.3" y="231">闪</text>
<text x="19.3" y="259">电</text>
<text x="19.3" y="287">图</text>
<text x="19.3" y="334">合</text>
<text x="19.3" y="363">约</text>
<text x="19.3" y="391">资</text>
<text x="19.3" y="418">料</text>
</g>
<g shape-rendering="crispEdges">
<path d="M56 1000h2v4h-2zM56 1024h2v4h-2zM44 1012h4v2h-4zM68 1012h4v2h-4zM46 1002h2v2h-2zM48 1004h2v2h-2zM68 1002h2v2h-2zM66 1004h2v2h-2zM48 1022h2v2h-2zM46 1024h2v2h-2zM66 1022h2v2h-2zM68 1024h2v2h-2zM56 1010h4v8h-4zM54 1012h8v4h-8z" fill="#f00"/>
<path d="M54 1006h8v2h-8zM54 1020h8v2h-8zM50 1010h2v8h-2zM64 1010h2v8h-2zM52 1008h2v2h-2zM62 1008h2v2h-2zM52 1018h2v2h-2zM62 1018h2v2h-2z" fill="#000"/>
</g>
<g shape-rendering="crispEdges">
<rect x="288" y="1230" width="2" height="10" fill="#cdd4de"/>
<rect x="576" y="1230" width="2" height="10" fill="#cdd4de"/>
<rect x="864" y="1230" width="2" height="10" fill="#cdd4de"/>
<rect x="1152" y="1230" width="2" height="10" fill="#cdd4de"/>
</g>
<text x="292.9" y="1253.6" font-size="25" fill="#1e2742" font-weight="bold" textLength="61.4" lengthAdjust="spacingAndGlyphs">12/10</text>
<text x="580.7" y="1253.6" font-size="25" fill="#1e2742" font-weight="bold" textLength="61.4" lengthAdjust="spacingAndGlyphs">12/12</text>
<text x="868.7" y="1253.6" font-size="25" fill="#1e2742" font-weight="bold" textLength="61.4" lengthAdjust="spacingAndGlyphs">12/16</text>
<text x="1156" y="1253.6" font-size="25" fill="#1e2742" font-weight="bold" textLength="61.4" lengthAdjust="spacingAndGlyphs">12/18</text>
<g shape-rendering="crispEdges">
<rect x="41" y="1229" width="138" height="39" fill="#fff" stroke="#cdd5de" stroke-width="2"/>
</g>
<text x="60.3" y="1257.8" font-size="25.5" fill="#ff7f00" font-weight="bold" textLength="40.6" lengthAdjust="spacingAndGlyphs">240</text>
<text x="102" y="1259" font-size="25" fill="#ff7f00" font-weight="bold" font-family="Liberation Sans, Noto Sans CJK SC, sans-serif">分</text>
<path d="M145.2 1242l8.6 15.8h-17.2z" fill="#ff7f00"/>
<g shape-rendering="crispEdges">
<rect x="40" y="1268" width="744" height="2" fill="#cdd5de"/>
<rect x="788" y="1268" width="332" height="2" fill="#eef1f5"/>
<rect x="1120" y="1268" width="342" height="2" fill="#c8d0d8"/>
<rect x="720" y="1262" width="532" height="1.5" fill="#f0f3f6"/>
<rect x="118" y="1270" width="2" height="30" fill="#cdd5de"/>
<rect x="198" y="1270" width="2" height="30" fill="#cdd5de"/>
<rect x="466" y="1270" width="2" height="30" fill="#cdd5de"/>
<rect x="582" y="1270" width="2" height="30" fill="#cdd5de"/>
<rect x="698" y="1270" width="2" height="30" fill="#cdd5de"/>
<rect x="802" y="1276" width="2" height="24" fill="#d3dae2"/>
<rect x="906" y="1276" width="2" height="24" fill="#d3dae2"/>
<rect x="1046" y="1276" width="2" height="24" fill="#d3dae2"/>
<rect x="1102" y="1276" width="2" height="23" fill="#cdd5de"/>
<rect x="1102" y="1298" width="360" height="2" fill="#cdd5de"/>
<rect x="861" y="1274" width="6" height="2" fill="#3a4760"/>
<rect x="878" y="1274" width="8" height="2" fill="#3a4760"/>
<rect x="897" y="1274" width="7" height="2" fill="#3a4760"/>
<rect x="913" y="1274" width="6" height="2" fill="#3a4760"/>
<rect x="1006" y="1274" width="6" height="2" fill="#3a4760"/>
<rect x="1020" y="1274" width="8" height="2" fill="#3a4760"/>
<rect x="1041" y="1274" width="7" height="2" fill="#3a4760"/>
<rect x="1054" y="1274" width="9" height="2" fill="#3a4760"/>
<rect x="314" y="1270" width="2" height="30" fill="#dde3ea"/>
<rect x="200" y="1268" width="114" height="29.5" fill="#ff6600"/>
</g>
<text x="56" y="1292.5" font-size="24" fill="#28323f" font-family="Liberation Sans, Noto Sans CJK SC, sans-serif" textLength="47" lengthAdjust="spacingAndGlyphs">指标</text>
<text x="136" y="1292.5" font-size="24" fill="#28323f" font-family="Liberation Sans, Noto Sans CJK SC, sans-serif" textLength="47" lengthAdjust="spacingAndGlyphs">模板</text>
<text x="216" y="1291.9" font-size="24" fill="#fff" font-family="Liberation Serif, serif" textLength="36" lengthAdjust="spacingAndGlyphs">VIP</text>
<text x="253.5" y="1292.5" font-size="24" fill="#fff" font-family="Liberation Sans, Noto Sans CJK SC, sans-serif" textLength="47" lengthAdjust="spacingAndGlyphs">指标</text>
<g font-family="Liberation Serif, serif" font-size="24" fill="#1e2a3c">
<text x="332" y="1291.9" textLength="120" lengthAdjust="spacingAndGlyphs">BARUPDN_UD</text>
<text x="483.5" y="1291.9" textLength="84" lengthAdjust="spacingAndGlyphs">BIAS_UD</text>
<text x="599.5" y="1291.9" textLength="84" lengthAdjust="spacingAndGlyphs">BOLL_UD</text>
<text x="715.5" y="1291.9" textLength="72" lengthAdjust="spacingAndGlyphs">CCI_UD</text>
<text x="819" y="1291.9" textLength="72" lengthAdjust="spacingAndGlyphs">DMI_UD</text>
<text x="926" y="1291.9" textLength="105" lengthAdjust="spacingAndGlyphs">INSIDE_UD</text>
</g>
<text x="1065.5" y="1291.7" font-size="22" fill="#1e2a3c" font-family="Liberation Mono" textLength="22" lengthAdjust="spacingAndGlyphs">&gt;&gt;</text>
<text x="1335.6" y="1275" font-size="29" fill="#c9b9ac" opacity="0.55" textLength="98" lengthAdjust="spacing">FX678</text>
<text x="1334.6" y="1274" font-size="29" fill="#d2daea" textLength="98" lengthAdjust="spacing">FX678</text>
<g shape-rendering="crispEdges">
<rect x="1458" y="500" width="2" height="75" fill="#eef2f6"/>
<rect x="1458" y="580" width="2" height="34" fill="#eef2f6"/>
<rect x="1458" y="638" width="2" height="34" fill="#eef2f6"/>
</g></svg></body></html>
